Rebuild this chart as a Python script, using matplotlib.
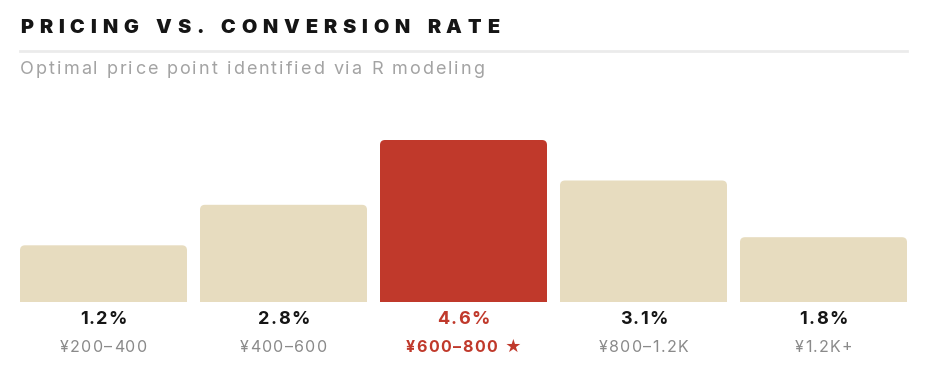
import matplotlib
matplotlib.use("Agg")
import matplotlib.pyplot as plt
from matplotlib.patches import FancyBboxPatch

# data
categories = ["¥200–400", "¥400–600", "¥600–800", "¥800–1.2K", "¥1.2K+"]
conversion = [1.2, 2.8, 4.6, 3.1, 1.8]
bar_height_pct = [35, 60, 100, 75, 40]   # drawn bar height, % of tallest
best = 2

beige = "#E7DCBF"
red = "#C0392B"
dark = "#151515"
grey = "#8A8A8A"

plt.rcParams["font.family"] = ["Inter", "DejaVu Sans"]

W, H = 927, 365
fig = plt.figure(figsize=(W / 100, H / 100), dpi=100)
renderer = fig.canvas.get_renderer()


def tracked_text(x, y, s, spacing, ha="left", **kw):
    # letter-spaced text, drawn char by char (x, y in pixels from top-left)
    arts, widths = [], []
    for ch in s:
        t = fig.text(0, 1 - y / H, ch, va="center", ha="left", **kw)
        w = t.get_window_extent(renderer=renderer).width
        if ch == " ":
            w = kw.get("fontsize", 10) * 100 / 72 * 0.28
        arts.append(t)
        widths.append(w)
    total = sum(widths) + spacing * (len(s) - 1)
    if ha == "center":
        x -= total / 2
    for t, w in zip(arts, widths):
        t.set_x(x / W)
        x += w + spacing


tracked_text(20, 28, "PRICING VS. CONVERSION RATE", 5.9,
             fontsize=14.3, fontweight="black", color=dark)
fig.add_artist(plt.Line2D([20 / W, 907 / W], [1 - 51 / H, 1 - 51 / H],
                          color="#EBEBEB", lw=2))
tracked_text(20, 70, "Optimal price point identified via R modeling", 2.0,
             fontsize=13, color="#A3A3A3")

# axes where one data unit = one pixel
left, right, bottom, top = 20, 907, 302, 140
ax = fig.add_axes([left / W, 1 - bottom / H, (right - left) / W, (bottom - top) / H])
ax.set_xlim(0, right - left)
ax.set_ylim(0, bottom - top)
ax.axis("off")

n = len(categories)
gap = 13
bw = (right - left - gap * (n - 1)) / n
for i, (cat, val, hp) in enumerate(zip(categories, conversion, bar_height_pct)):
    h = (bottom - top) * hp / 100
    x0 = i * (bw + gap)
    col = red if i == best else beige
    ax.add_patch(FancyBboxPatch((x0, -10), bw, h + 10,
                                boxstyle="round,pad=0,rounding_size=5",
                                fc=col, ec="none"))
    cx = left + x0 + bw / 2
    tracked_text(cx, bottom + 17, f"{val}%", 1.3, ha="center",
                 fontsize=13, fontweight="bold",
                 color=red if i == best else dark)
    label = cat + " ★" if i == best else cat
    tracked_text(cx, bottom + 45, label, 1.4, ha="center",
                 fontsize=11.5, fontweight="bold" if i == best else "normal",
                 family=["Inter", "DejaVu Sans"],
                 color=red if i == best else grey)

fig.savefig("out.png", dpi=100, facecolor="white")
